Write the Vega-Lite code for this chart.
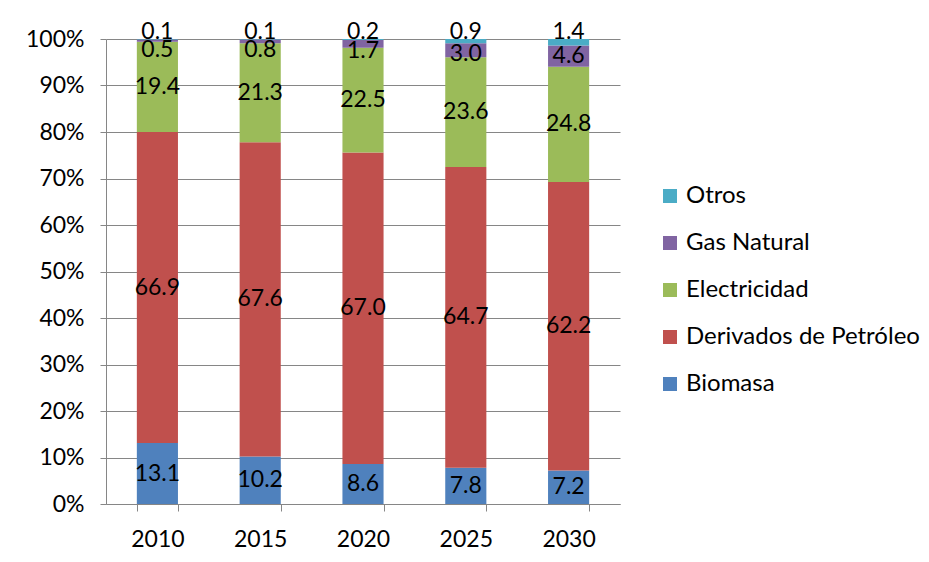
{
  "$schema": "https://vega.github.io/schema/vega-lite/v6.json",
  "width": 514,
  "height": 465,
  "autosize": "none",
  "padding": {"left": 106, "top": 39, "right": 309, "bottom": 58},
  "background": "white",
  "config": {"font": "Lato", "view": {"stroke": null}},
  "data": {
    "values": [
      {"year": "2010", "cat": "Biomasa", "value": 13.1},
      {"year": "2010", "cat": "Derivados de Petróleo", "value": 66.9},
      {"year": "2010", "cat": "Electricidad", "value": 19.4},
      {"year": "2010", "cat": "Gas Natural", "value": 0.5},
      {"year": "2010", "cat": "Otros", "value": 0.1},
      {"year": "2015", "cat": "Biomasa", "value": 10.2},
      {"year": "2015", "cat": "Derivados de Petróleo", "value": 67.6},
      {"year": "2015", "cat": "Electricidad", "value": 21.3},
      {"year": "2015", "cat": "Gas Natural", "value": 0.8},
      {"year": "2015", "cat": "Otros", "value": 0.1},
      {"year": "2020", "cat": "Biomasa", "value": 8.6},
      {"year": "2020", "cat": "Derivados de Petróleo", "value": 67.0},
      {"year": "2020", "cat": "Electricidad", "value": 22.5},
      {"year": "2020", "cat": "Gas Natural", "value": 1.7},
      {"year": "2020", "cat": "Otros", "value": 0.2},
      {"year": "2025", "cat": "Biomasa", "value": 7.8},
      {"year": "2025", "cat": "Derivados de Petróleo", "value": 64.7},
      {"year": "2025", "cat": "Electricidad", "value": 23.6},
      {"year": "2025", "cat": "Gas Natural", "value": 3.0},
      {"year": "2025", "cat": "Otros", "value": 0.9},
      {"year": "2030", "cat": "Biomasa", "value": 7.2},
      {"year": "2030", "cat": "Derivados de Petróleo", "value": 62.2},
      {"year": "2030", "cat": "Electricidad", "value": 24.8},
      {"year": "2030", "cat": "Gas Natural", "value": 4.6},
      {"year": "2030", "cat": "Otros", "value": 1.4}
    ]
  },
  "transform": [
    {"stack": "value", "groupby": ["year"], "sort": [{"field": "cat", "order": "ascending"}], "offset": "normalize", "as": ["y0", "y1"]},
    {"calculate": "(datum.y0 + datum.y1) / 2", "as": "ymid"}
  ],
  "encoding": {
    "x": {
      "field": "year", "type": "ordinal",
      "scale": {"paddingInner": 0.6, "paddingOuter": 0.3},
      "axis": {
        "title": null, "labelAngle": 0, "tickBand": "extent", "tickSize": 7,
        "domainColor": "#868686", "tickColor": "#868686", "labelFontSize": 23,
        "labelColor": "black", "labelPadding": 17, "grid": false
      }
    }
  },
  "layer": [
    {
      "mark": {"type": "bar"},
      "encoding": {
        "y": {
          "field": "y0", "type": "quantitative", "scale": {"domain": [0, 1]},
          "axis": {
            "title": null, "format": ".0%", "values": [0, 0.1, 0.2, 0.3, 0.4, 0.5, 0.6, 0.7, 0.8, 0.9, 1],
            "grid": true, "gridColor": "#868686", "domainColor": "#868686", "tickColor": "#868686",
            "tickSize": 6, "labelFontSize": 23, "labelColor": "black", "labelPadding": 16
          }
        },
        "y2": {"field": "y1"},
        "color": {
          "field": "cat", "type": "nominal",
          "scale": {
            "domain": ["Otros", "Gas Natural", "Electricidad", "Derivados de Petróleo", "Biomasa"],
            "range": ["#4BACC6", "#8064A2", "#9BBB59", "#C0504D", "#4F81BD"]
          },
          "legend": {
            "title": null, "orient": "none", "legendX": 552, "legendY": 145,
            "symbolType": "square", "symbolSize": 196, "symbolStrokeWidth": 0,
            "labelFontSize": 24, "labelColor": "black", "rowPadding": 23, "labelOffset": 4,
            "labelLimit": 400
          }
        }
      }
    },
    {
      "transform": [{"filter": "datum.cat != 'Otros' && datum.cat != 'Gas Natural'"}],
      "mark": {"type": "text", "fontSize": 23, "color": "black", "baseline": "middle"},
      "encoding": {
        "y": {"field": "ymid", "type": "quantitative"},
        "text": {"field": "value", "type": "quantitative", "format": ".1f"}
      }
    },
    {
      "transform": [{"filter": "datum.cat == 'Gas Natural'"}],
      "mark": {"type": "text", "fontSize": 23, "color": "black", "baseline": "middle", "dy": 11},
      "encoding": {
        "y": {"field": "y1", "type": "quantitative"},
        "text": {"field": "value", "type": "quantitative", "format": ".1f"}
      }
    },
    {
      "transform": [{"filter": "datum.cat == 'Otros'"}],
      "mark": {"type": "text", "fontSize": 23, "color": "black", "baseline": "middle", "dy": -7},
      "encoding": {
        "y": {"field": "y1", "type": "quantitative"},
        "text": {"field": "value", "type": "quantitative", "format": ".1f"}
      }
    }
  ]
}
